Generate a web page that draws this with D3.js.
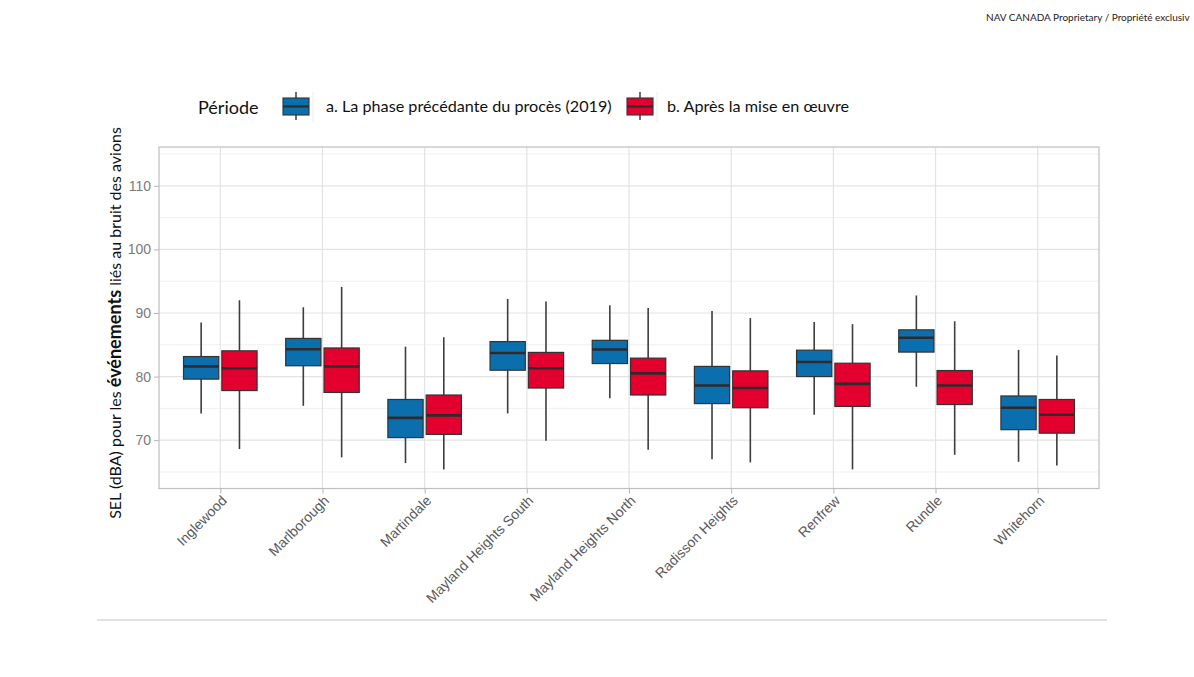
<!DOCTYPE html>
<html><head><meta charset="utf-8">
<script src="https://cdn.jsdelivr.net/npm/d3@7"></script>
<style>body{margin:0;background:#fff}svg{display:block}</style>
</head><body>
<svg id="c" width="1194" height="677"></svg>
<script>
const categories = ["Inglewood","Marlborough","Martindale","Mayland Heights South","Mayland Heights North","Radisson Heights","Renfrew","Rundle","Whitehorn"];
const seriesNames = ["a. La phase précédante du procès (2019)","b. Après la mise en œuvre"];
// [whiskerLow, Q1, median, Q3, whiskerHigh]
const before2019 = [
  [74.2,79.6,81.6,83.15,88.5],
  [75.4,81.7,84.3,86.0,90.9],
  [66.4,70.4,73.5,76.4,84.7],
  [74.2,81.0,83.7,85.5,92.2],
  [76.6,82.05,84.25,85.7,91.2],
  [67.0,75.75,78.6,81.6,90.3],
  [74.0,80.0,82.3,84.15,88.6],
  [78.4,83.85,86.1,87.35,92.75],
  [66.6,71.65,75.1,76.95,84.2]
];
const afterImpl = [
  [68.6,77.8,81.3,84.05,92.0],
  [67.3,77.5,81.6,84.5,94.1],
  [65.4,70.9,73.9,77.1,86.2],
  [69.9,78.2,81.3,83.8,91.8],
  [68.5,77.1,80.5,82.9,90.8],
  [66.5,75.1,78.2,80.9,89.2],
  [65.4,75.3,78.85,82.1,88.25],
  [67.7,75.6,78.6,80.95,88.7],
  [66.0,71.1,74.0,76.4,83.3]
];
const yTicks = [70,80,90,100,110];
const yMinor = [65,75,85,95,105,115];
const colors = ["#0b6fae","#e3002f"];

const svg = d3.select("#c");
const P = {l:159, r:1099, t:147, b:488.5};

// header
svg.append("text").attr("x",986).attr("y",21).attr("font-family","Lato, 'Open Sans', sans-serif")
  .attr("font-size",10).attr("fill","#222").text("NAV CANADA Proprietary / Propriété exclusiv");

const x = d3.scalePoint().domain(categories).range([P.l,P.r]).padding(0.6);
const step = x.step();
const y = d3.scaleLinear().domain([62.4,116.1]).range([P.b,P.t]);

const g = svg.append("g");
// minor grid
g.selectAll(".ymin").data(yMinor.filter(v=>y(v)>P.t)).join("line")
  .attr("x1",P.l).attr("x2",P.r).attr("y1",d=>y(d)).attr("y2",d=>y(d))
  .attr("stroke","#f0f0f0").attr("stroke-width",1);
// major grid
g.selectAll(".ymaj").data(yTicks).join("line")
  .attr("x1",P.l).attr("x2",P.r).attr("y1",d=>y(d)).attr("y2",d=>y(d))
  .attr("stroke","#e3e3e3").attr("stroke-width",1.2);
g.selectAll(".xmaj").data(categories).join("line")
  .attr("x1",d=>x(d)).attr("x2",d=>x(d)).attr("y1",P.t).attr("y2",P.b)
  .attr("stroke","#e3e3e3").attr("stroke-width",1.2);

// axes
const yAxis = svg.append("g").attr("transform",`translate(${P.l},0)`)
  .call(d3.axisLeft(y).tickValues(yTicks).tickSize(5).tickPadding(3));
yAxis.select(".domain").remove();
yAxis.selectAll("line").attr("stroke","#b3b3b3");
yAxis.selectAll("text").attr("font-family","Liberation Sans, Arial, sans-serif").attr("font-size",14).attr("fill","#7a7a7a");

const xAxis = svg.append("g").attr("transform",`translate(0,${P.b})`)
  .call(d3.axisBottom(x).tickSize(5).tickPadding(3));
xAxis.select(".domain").remove();
xAxis.selectAll("line").attr("stroke","#b3b3b3");
xAxis.selectAll("text").attr("font-family","Liberation Sans, Arial, sans-serif").attr("font-size",14).attr("fill","#5a5a5a")
  .attr("text-anchor","end").attr("dy",null).attr("y",null)
  .attr("transform","translate(7,13) rotate(-45)");

// boxes
const off = step*0.1875, bw = step*0.345;
[before2019, afterImpl].forEach((ser,si)=>{
  const cg = svg.append("g");
  ser.forEach((d,i)=>{
    const cx = x(categories[i]) + (si===0?-off:off);
    cg.append("line").attr("x1",cx).attr("x2",cx).attr("y1",y(d[4])).attr("y2",y(d[3]))
      .attr("stroke","#3d3d3d").attr("stroke-width",1.6);
    cg.append("line").attr("x1",cx).attr("x2",cx).attr("y1",y(d[1])).attr("y2",y(d[0]))
      .attr("stroke","#3d3d3d").attr("stroke-width",1.6);
    cg.append("rect").attr("x",cx-bw/2).attr("width",bw).attr("y",y(d[3])).attr("height",y(d[1])-y(d[3]))
      .attr("fill",colors[si]).attr("stroke","#333").attr("stroke-width",1.2);
    cg.append("line").attr("x1",cx-bw/2).attr("x2",cx+bw/2).attr("y1",y(d[2])).attr("y2",y(d[2]))
      .attr("stroke","#2f2a2c").attr("stroke-width",2.6);
  });
});

// panel border
svg.append("rect").attr("x",P.l).attr("y",P.t).attr("width",P.r-P.l).attr("height",P.b-P.t)
  .attr("fill","none").attr("stroke","#bfbfbf").attr("stroke-width",1.2);

// y title
const yt = svg.append("text").attr("transform",`translate(121,${(125+521)/2}) rotate(-90)`)
  .attr("text-anchor","middle").attr("font-family","Lato, 'Open Sans', sans-serif").attr("font-size",16).attr("fill","#111");
yt.append("tspan").text("SEL (dBA) pour les ");
yt.append("tspan").attr("font-weight","bold").attr("font-size",18).text("événements");
yt.append("tspan").text(" liés au bruit des avions");

// legend
const lf = "Lato, 'Open Sans', sans-serif";
svg.append("text").attr("x",198).attr("y",114).attr("font-family",lf).attr("font-size",18).attr("fill","#111").text("Période");
const keyX = [283, 627], txtX = [326, 667];
seriesNames.forEach((n,i)=>{
  const kx = keyX[i], cx = kx+13;
  svg.append("line").attr("x1",kx+30).attr("x2",kx+30).attr("y1",92).attr("y2",122).attr("stroke","#ececec");
  svg.append("line").attr("x1",cx).attr("x2",cx).attr("y1",92).attr("y2",120).attr("stroke","#3d3d3d").attr("stroke-width",1.5);
  svg.append("rect").attr("x",kx).attr("y",98).attr("width",26).attr("height",17)
    .attr("fill",colors[i]).attr("stroke","#333").attr("stroke-width",1.1);
  svg.append("line").attr("x1",kx).attr("x2",kx+26).attr("y1",106.5).attr("y2",106.5).attr("stroke","#2f2a2c").attr("stroke-width",2.2);
  svg.append("text").attr("x",txtX[i]).attr("y",112).attr("font-family",lf).attr("font-size",16.2).attr("fill","#111").text(n);
});

// bottom rule
svg.append("line").attr("x1",97).attr("x2",1107).attr("y1",620).attr("y2",620).attr("stroke","#d9d9d9").attr("stroke-width",1.5);
</script>
</body></html>
